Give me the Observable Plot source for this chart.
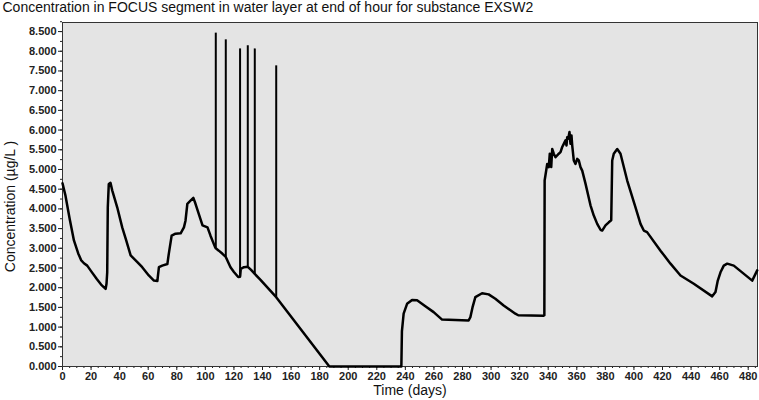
<!DOCTYPE html>
<html>
<head>
<meta charset="utf-8">
<script src="https://cdn.jsdelivr.net/npm/d3@7"></script>
<script src="https://cdn.jsdelivr.net/npm/@observablehq/plot@0.6"></script>
<style>
  html, body { margin: 0; padding: 0; background: #fff; }
  svg { font-family: "Liberation Sans", Arial, sans-serif; }
  [aria-label$="tick label"] text, [aria-label$="tick label"] { font-weight: bold; font-size: 11px; fill: #222; }
</style>
</head>
<body>
<div id="chart"></div>
<script>
const titleText = "Concentration in FOCUS segment in water layer at end of hour for substance EXSW2";
const xLabel = "Time (days)";
const yLabel = "Concentration (µg/L )";

const xTicks = [0,20,40,60,80,100,120,140,160,180,200,220,240,260,280,300,320,340,360,380,400,420,440,460,480];
const xMinorTicks = d3.range(0, 486, 5);
const yTicks = [0,0.5,1,1.5,2,2.5,3,3.5,4,4.5,5,5.5,6,6.5,7,7.5,8,8.5];
const yMinorTicks = d3.range(0, 8.76, 0.25);

const days = [
  0, 2, 5, 8, 11, 13, 15, 17.3, 20, 24, 27, 30.2, 30.8, 31.3, 31.7, 32.4, 33.6, 34.8, 38.3, 41.8,
  44.6, 47.7, 52.4, 55.8, 60.4, 64, 66.4, 67.5, 69.8, 73.4, 74.4, 76.4, 79.1, 82.7, 85, 86.1,
  87.4, 89.6, 91.6, 93.1, 98, 101.5, 103.6, 106.8, 107.3, 109.4, 112, 114.3, 117.6, 120, 123,
  124.3, 124.8, 127, 129.7, 132, 134.6, 138.6, 149.6, 186.8, 237.2, 237.6, 238.8, 241.2, 244.7,
  248.2, 254, 259.8, 265.7, 284.3, 285.5, 287, 289, 293.7, 298.3, 303, 308.8, 317, 319, 336.8,
  337.3, 337.5, 339.3, 340.4, 341.1, 342.1, 342.8, 343.9, 345.1, 347.4, 348.6, 349.8, 350.9,
  352.1, 352.8, 353.3, 354.0, 354.9, 355.6, 356.3, 356.8, 357.9, 359.1, 360.3, 361.4, 362.6,
  363.8, 366.1, 369.6, 371.9, 374.3, 376.6, 377.8, 380.1, 382.4, 384.1, 384.8, 385.9, 388.3,
  390.6, 395.3, 401.1, 404.6, 406.9, 409.2, 418.6, 425.6, 432.6, 441.9, 454.8, 457.1, 458.7,
  460.6, 462.9, 465.3, 469.9, 482.8, 486.3
];
const conc = [
  4.65, 4.35, 3.75, 3.2, 2.87, 2.7, 2.62, 2.56, 2.42, 2.22, 2.08, 1.97, 2.1, 2.39, 4.04, 4.63, 4.66, 4.47, 4.04, 3.53,
  3.2, 2.82, 2.65, 2.52, 2.31, 2.18, 2.17, 2.52, 2.56, 2.6, 2.86, 3.32, 3.37, 3.38, 3.53, 3.7,
  4.13, 4.21, 4.28, 4.13, 3.58, 3.53, 3.32, 3.03, 3.0, 2.94, 2.86, 2.78, 2.52, 2.4, 2.27,
  2.28, 2.48, 2.52, 2.53, 2.45, 2.35, 2.2, 1.76, 0, 0, 0.9, 1.34, 1.59, 1.69,
  1.68, 1.53, 1.38, 1.19, 1.17, 1.25, 1.5, 1.76, 1.86, 1.83, 1.72, 1.55, 1.34, 1.3, 1.29,
  1.3, 4.72, 5.14, 5.06, 5.40, 5.06, 5.52, 5.40, 5.31, 5.40, 5.44, 5.57, 5.65,
  5.74, 5.61, 5.82, 5.78, 5.95, 5.65, 5.86, 5.61, 5.23, 5.14, 5.27, 5.23, 5.06,
  4.97, 4.64, 4.09, 3.83, 3.62, 3.47, 3.45, 3.58, 3.66, 3.71, 5.23, 5.40, 5.52,
  5.40, 4.72, 4.04, 3.62, 3.45, 3.41, 2.94, 2.61, 2.31, 2.10, 1.78, 1.89, 2.18,
  2.39, 2.56, 2.61, 2.56, 2.18, 2.44
];

const spikeDays = [107.3, 114.3, 124.3, 129.7, 134.6, 149.6];
const spikeBase = [3.0, 2.78, 2.28, 2.53, 2.35, 1.76];
const spikePeak = [8.46, 8.29, 8.06, 8.14, 8.06, 7.63];

const series = days.map((d, i) => ({day: d, c: conc[i]}));
const spikes = spikeDays.map((d, i) => ({day: d, lo: spikeBase[i], hi: spikePeak[i]}));

const chart = Plot.plot({
  width: 759,
  height: 400,
  marginLeft: 62,
  marginRight: 2,
  marginTop: 22,
  marginBottom: 34,
  x: {domain: [0, 486.5], axis: null},
  y: {domain: [0, 8.73], axis: null},
  marks: [
    Plot.frame({fill: "#e4e4e4", stroke: null}),
    Plot.axisX({ticks: xMinorTicks, tickSize: 2, tickFormat: () => "", stroke: "#222", label: null}),
    Plot.axisX({ticks: xTicks, tickSize: 4, tickPadding: 2, tickFormat: d3.format("d"), stroke: "#222", label: null}),
    Plot.axisY({ticks: yMinorTicks, tickSize: 2, tickFormat: () => "", stroke: "#222", label: null}),
    Plot.axisY({ticks: yTicks, tickSize: 4, tickPadding: 2, tickFormat: d3.format(".3f"), stroke: "#222", label: null}),
    Plot.frame({stroke: "#333", strokeWidth: 1}),
    Plot.ruleX(spikes, {x: "day", y1: "lo", y2: "hi", stroke: "#000", strokeWidth: 2}),
    Plot.line(series, {x: "day", y: "c", stroke: "#000", strokeWidth: 2.5, strokeLinejoin: "round"}),
    Plot.text([titleText], {frameAnchor: "top-left", dx: -60, dy: -20, textAnchor: "start", lineAnchor: "top", fontSize: 14, fill: "#111"}),
    Plot.text([xLabel], {frameAnchor: "bottom", dy: 19, lineAnchor: "top", fontSize: 14, fill: "#111"}),
    Plot.text([yLabel], {frameAnchor: "left", dx: -52, dy: 12, rotate: -90, textAnchor: "middle", fontSize: 14, fill: "#111"})
  ]
});
document.getElementById("chart").appendChild(chart);
</script>
</body>
</html>
